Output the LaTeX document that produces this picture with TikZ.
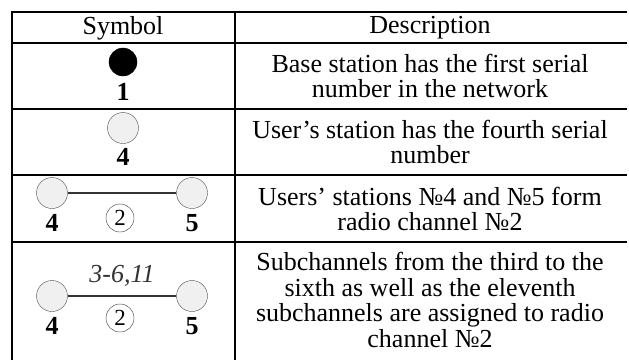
\documentclass[tikz,border=0pt]{standalone}
\usepackage{fontspec}
\setmainfont{Liberation Serif}
\begin{document}
\fontsize{26}{25.5}\selectfont
\begin{tikzpicture}[x=1pt,y=-1pt,
  station/.style={draw=black!70,circle,minimum size=31pt,inner sep=0pt,fill=black!6},
  base/.style={draw=black,circle,minimum size=28pt,inner sep=0pt,fill=black},
  chan/.style={draw=black!80,circle,minimum size=28pt,inner sep=0pt,font=\fontsize{23}{25}\selectfont},
  num/.style={font=\bfseries},
  desc/.style={align=center}]
  \useasboundingbox (0,0) rectangle (629,360);
  % table lines
  \draw[line width=2pt] (12,12) -- (627,12);
  \draw[line width=2pt] (12,43) -- (627,43);
  \draw[line width=2pt] (12,109) -- (627,109);
  \draw[line width=2pt] (12,175) -- (627,175);
  \draw[line width=2pt] (12,242) -- (627,242);
  \draw[line width=2pt] (12,11) -- (12,360);
  \draw[line width=2pt] (235,11) -- (235,360);
  % header
  \node (Sym) at (123,28) {Symbol};
  \node (Desc) at (430,28) {Description};
  % row 1
  \node[base] (BS) at (123,62) {};
  \node[num] (n1) at (123,92) {1};
  \node[desc] (d1) at (430,76) {Base station has the first serial\\number in the network};
  % row 2
  \node[station] (U4) at (123,128) {};
  \node[num] (n4) at (123,157) {4};
  \node[desc] (d2) at (430,142) {User’s station has the fourth serial\\number};
  % row 3
  \node[station] (U4a) at (52,193) {};
  \node[station] (U5a) at (192,193) {};
  \draw[black!80,line width=1.2pt] (U4a) -- (U5a);
  \node[chan] (C2a) at (120,218) {2};
  \node[num] (n4a) at (52,223) {4};
  \node[num] (n5a) at (192,223) {5};
  \node[desc] (d3) at (430,209) {Users’ stations №4 and №5 form\\radio channel №2};
  % row 4
  \node[station] (U4b) at (52,296) {};
  \node[station] (U5b) at (192,296) {};
  \draw[black!80,line width=1.2pt] (U4b) -- node[above=0pt,font=\itshape]{3-6,11} (U5b);
  \node[chan] (C2b) at (120,318) {2};
  \node[num] (n4b) at (52,326) {4};
  \node[num] (n5b) at (192,326) {5};
  \node[desc] (d4) at (430,300) {Subchannels from the third to the\\sixth as well as the eleventh\\subchannels are assigned to radio\\channel №2};
\end{tikzpicture}
\end{document}
